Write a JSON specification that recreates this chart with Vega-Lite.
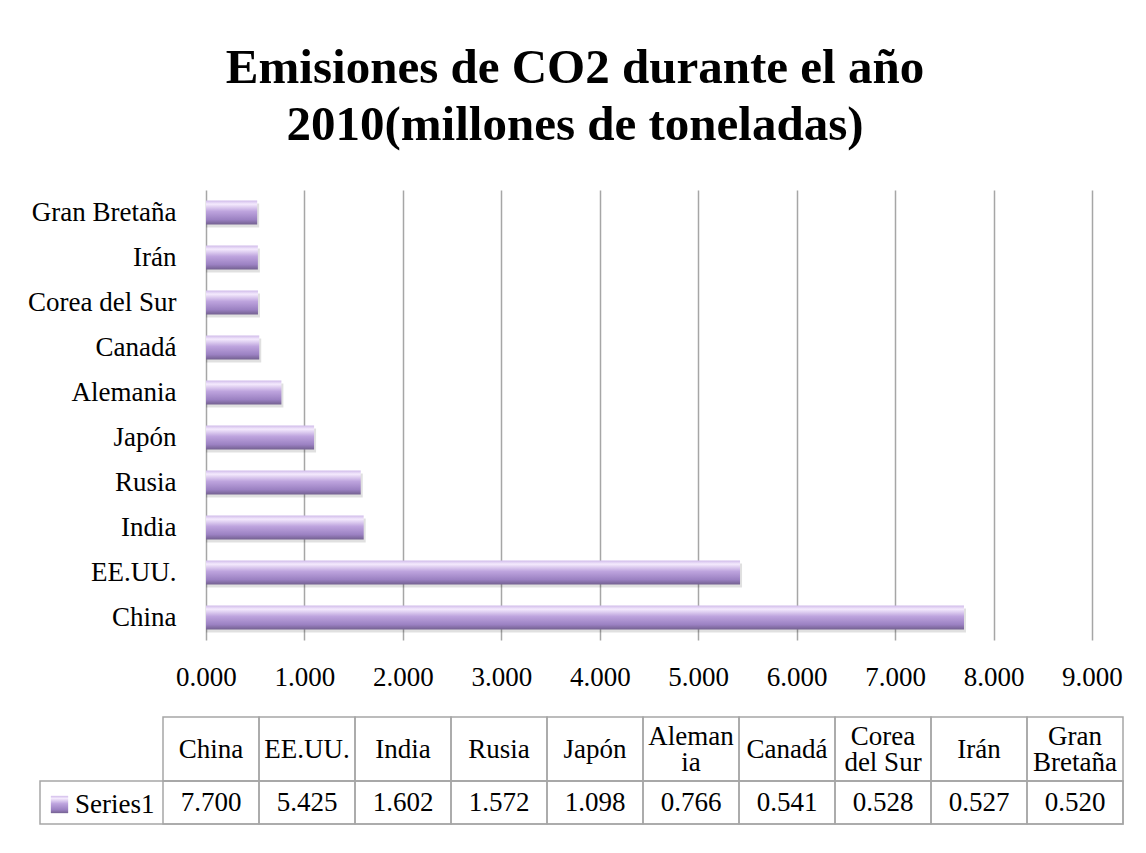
{
  "$schema": "https://vega.github.io/schema/vega-lite/v6.json",
  "background": "white",
  "padding": {"left": 27, "top": 44, "right": 22, "bottom": 29},
  "config": {
    "font": "Liberation Serif",
    "view": {"stroke": null}
  },
  "title": {
    "text": ["Emisiones de CO2 durante el año", "2010(millones de toneladas)"],
    "font": "Liberation Serif",
    "fontSize": 49,
    "fontWeight": "bold",
    "color": "#000000",
    "lineHeight": 57,
    "anchor": "middle",
    "dx": -1,
    "offset": 40
  },
  "data": {
    "values": [
      {"pais": "China", "emisiones": 7.700},
      {"pais": "EE.UU.", "emisiones": 5.425},
      {"pais": "India", "emisiones": 1.602},
      {"pais": "Rusia", "emisiones": 1.572},
      {"pais": "Japón", "emisiones": 1.098},
      {"pais": "Alemania", "emisiones": 0.766},
      {"pais": "Canadá", "emisiones": 0.541},
      {"pais": "Corea del Sur", "emisiones": 0.528},
      {"pais": "Irán", "emisiones": 0.527},
      {"pais": "Gran Bretaña", "emisiones": 0.520}
    ]
  },
  "bounds": "flush",
  "spacing": 77,
  "vconcat": [
    {
      "width": 1083,
      "height": 450,
      "encoding": {
        "y": {
          "field": "pais",
          "type": "nominal",
          "scale": {
            "domain": ["Gran Bretaña", "Irán", "Corea del Sur", "Canadá", "Alemania", "Japón", "Rusia", "India", "EE.UU.", "China"],
            "paddingInner": 0,
            "paddingOuter": 0
          },
          "axis": {
            "title": null,
            "domain": false,
            "ticks": false,
            "tickSize": 0,
            "offset": -141,
            "labelPadding": 5,
            "labelFont": "Liberation Serif",
            "labelFontSize": 27,
            "labelColor": "#000000",
            "labelLimit": 400
          }
        },
        "x": {
          "field": "emisiones",
          "type": "quantitative",
          "scale": {"domain": [-1.6863, 9.3153], "nice": false, "zero": false},
          "axis": {
            "values": [0, 1, 2, 3, 4, 5, 6, 7, 8, 9],
            "format": ".3f",
            "title": null,
            "grid": true,
            "gridColor": "#a6a6a6",
            "gridWidth": 1.5,
            "domain": false,
            "ticks": false,
            "tickSize": 0,
            "labelPadding": 24,
            "labelFont": "Liberation Serif",
            "labelFontSize": 27,
            "labelColor": "#000000",
            "labelOverlap": false,
            "labelFlush": false
          }
        },
        "x2": {"datum": 0}
      },
      "layer": [
        {
          "mark": {"type": "bar", "height": {"band": 0.53}, "fill": "#000000", "opacity": 0.12},
          "encoding": {
            "yOffset": {"value": 3},
            "xOffset": {"value": 2}
          }
        },
        {
          "mark": {
            "type": "bar",
            "height": {"band": 0.53},
            "fill": {
              "gradient": "linear",
              "x1": 0, "y1": 0, "x2": 0, "y2": 1,
              "stops": [
                {"offset": 0, "color": "#d0bbea"},
                {"offset": 0.15, "color": "#f4eafd"},
                {"offset": 0.45, "color": "#bea4de"},
                {"offset": 0.8, "color": "#9b81c2"},
                {"offset": 1, "color": "#746191"}
              ]
            }
          },
          "encoding": {
            "stroke": {
              "datum": "Series1",
              "type": "nominal",
              "scale": {"range": ["transparent"]},
              "legend": {
                "orient": "none",
                "legendX": 6,
                "legendY": 601,
                "title": null,
                "padding": 0,
                "symbolType": "square",
                "symbolSize": 300,
                "symbolFillColor": "#a994cb",
                "symbolStrokeColor": "#8e79b0",
                "symbolStrokeWidth": 0.5,
                "labelOffset": 2,
                "labelFont": "Liberation Serif",
                "labelFontSize": 27,
                "labelColor": "#000000"
              }
            }
          }
        },
        {
          "data": {"values": [{}]},
          "mark": {"type": "rule", "color": "#a6a6a6", "strokeWidth": 1.5},
          "encoding": {
            "x": {"datum": 0, "type": "quantitative"},
            "x2": {"datum": 9},
            "y": {"datum": "China", "type": "nominal", "bandPosition": 1}
          }
        }
      ]
    },
    {
      "bounds": "flush",
      "spacing": 0,
      "vconcat": [
        {
          "width": 1083,
          "height": 64,
          "mark": {"type": "rect", "fill": "transparent", "stroke": "#a6a6a6", "strokeWidth": 1.5},
          "encoding": {
            "x": {
              "field": "pais",
              "type": "nominal",
              "scale": {
                "domain": ["China", "EE.UU.", "India", "Rusia", "Japón", "Alemania", "Canadá", "Corea del Sur", "Irán", "Gran Bretaña"],
                "paddingInner": 0,
                "paddingOuter": 0.640625,
                "align": 1
              },
              "axis": {
                "orient": "bottom",
                "offset": -32,
                "zindex": 1,
                "title": null,
                "domain": false,
                "ticks": false,
                "tickSize": 0,
                "labelPadding": {
                  "condition": {"test": "indexof(['Alemania', 'Corea del Sur', 'Gran Bretaña'], datum.value) >= 0", "value": -13},
                  "value": 0
                },
                "labelAngle": 0,
                "labelBaseline": "middle",
                "labelFont": "Liberation Serif",
                "labelFontSize": 27,
                "labelLineHeight": 26,
                "labelColor": "#000000",
                "labelLimit": 400,
                "labelExpr": "datum.value == 'Alemania' ? ['Aleman', 'ia'] : datum.value == 'Corea del Sur' ? ['Corea', 'del Sur'] : datum.value == 'Gran Bretaña' ? ['Gran', 'Bretaña'] : datum.value"
              }
            }
          }
        },
        {
          "width": 1083,
          "height": 43,
          "view": {"stroke": "#a6a6a6", "strokeWidth": 1.5},
          "encoding": {
            "x": {
              "field": "pais",
              "type": "nominal",
              "scale": {
                "domain": ["China", "EE.UU.", "India", "Rusia", "Japón", "Alemania", "Canadá", "Corea del Sur", "Irán", "Gran Bretaña"],
                "paddingInner": 0,
                "paddingOuter": 0.640625,
                "align": 1
              },
              "axis": null
            }
          },
          "layer": [
            {
              "mark": {"type": "rect", "fill": "transparent", "stroke": "#a6a6a6", "strokeWidth": 1.5}
            },
            {
              "mark": {"type": "text", "font": "Liberation Serif", "fontSize": 27, "color": "#000000", "baseline": "middle"},
              "encoding": {
                "text": {"field": "emisiones", "type": "quantitative", "format": ".3f"}
              }
            }
          ]
        }
      ]
    }
  ]
}
